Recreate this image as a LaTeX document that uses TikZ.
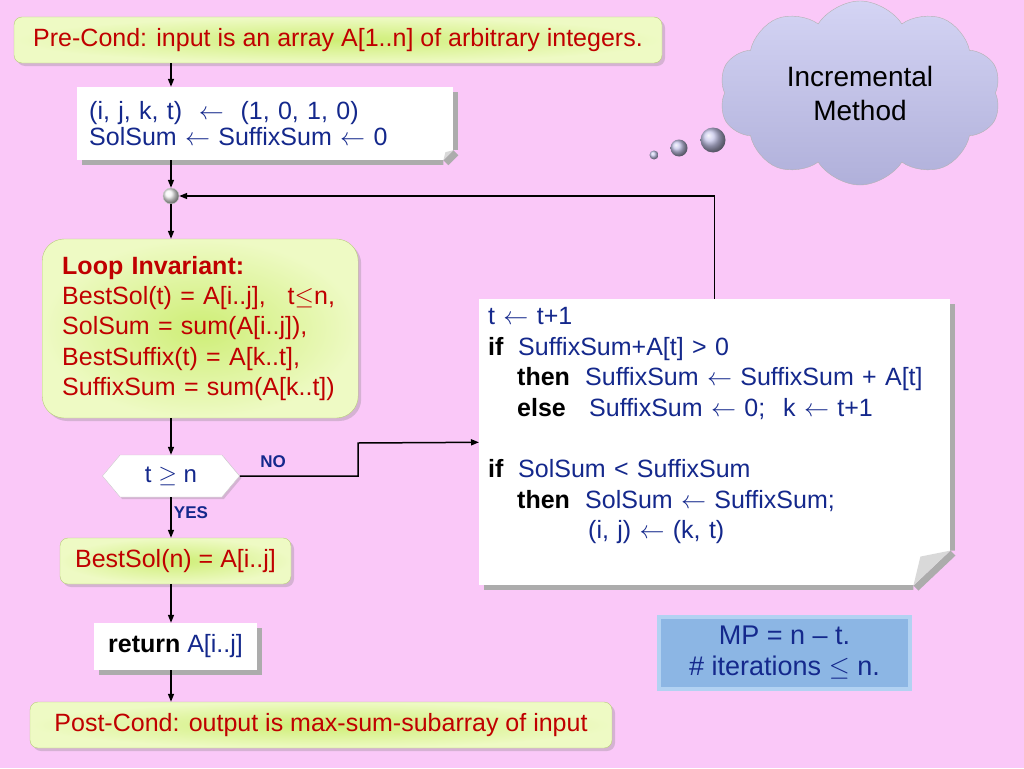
\RequirePackage{fix-cm}
\documentclass[tikz,border=0pt]{standalone}
\usepackage{fontspec}
\setmainfont{Liberation Sans}
\usetikzlibrary{calc}
\usetikzlibrary{arrows.meta}
\usetikzlibrary{shadows}
\usetikzlibrary{shapes.symbols}
\definecolor{pinkbg}{RGB}{250,200,248}
\definecolor{darkred}{RGB}{192,0,0}
\definecolor{navy}{RGB}{20,40,140}
\definecolor{limelt}{RGB}{238,250,196}
\definecolor{limedk}{RGB}{206,238,118}
\definecolor{cloudlt}{RGB}{212,212,244}
\definecolor{clouddk}{RGB}{176,176,218}
\definecolor{mpblue}{RGB}{140,182,228}
\definecolor{mpedge}{RGB}{178,210,242}
\newcommand{\kwd}[1]{\textcolor{black}{\textbf{#1}}}
\newcommand{\getsto}{$\leftarrow$}
\begin{document}
\begin{tikzpicture}[x=1pt,y=-1pt,
    txt/.style={font=\fontsize{25}{30}\selectfont},
    limebox/.style={draw=limedk!70!gray, rounded corners=8pt, inner color=limedk, outer color=limelt, text=darkred, txt,
        drop shadow={opacity=0.3, shadow xshift=3pt, shadow yshift=-3pt}},
    paper/.style={fill=white, text=navy, txt, general shadow={fill=gray!65, shadow xshift=5pt, shadow yshift=-5pt}},
    flow/.style={line width=1.5pt, -{Triangle[length=8pt,width=6pt]}},
    lbl/.style={text=navy, font=\fontsize{17}{20}\selectfont\bfseries}]%
        \fill[pinkbg] (0,0) rectangle (1024,768);%
        \useasboundingbox (0,0) rectangle (1024,768);%
        \node[limebox, minimum width=648, minimum height=46] (pre) at (338,40) {Pre-Cond: input is an array A[1..n] of arbitrary integers.};%
        \node[paper, anchor=west, minimum width=376, minimum height=73, inner xsep=12, text width=352, align=left,
            font=\fontsize{25}{26}\selectfont] (init) at (77,123.5) {(i, j, k, t)~~\getsto~~(1, 0, 1, 0)\\SolSum \getsto{} SuffixSum \getsto{} 0};%
        \node[circle, minimum size=16, inner sep=0, shading=ball, ball color=gray!8, draw=gray!40] (join) at (171,196) {};%
        \node[limebox, rounded corners=22pt, anchor=west, minimum width=316, minimum height=179, inner xsep=20, text width=276,
            align=left, font=\fontsize{25}{30.3}\selectfont] (inv) at (42,328.5)
            {\textbf{Loop Invariant:}\\BestSol(t) = A[i..j],\hspace{22pt}t$\leq$n,\\SolSum = sum(A[i..j]),\\BestSuffix(t) = A[k..t],\\SuffixSum = sum(A[k..t])};%
        \node[signal, signal to=west and east, signal pointer angle=100, minimum width=137, minimum height=42, inner sep=0,
            fill=white, draw=gray!40, text=navy, font=\fontsize{24}{28}\selectfont,
            drop shadow={opacity=0.3, shadow xshift=2pt, shadow yshift=-2pt}] (test) at (171,476) {t $\geq$ n};%
        \node[lbl] (no) at (273,462) {NO};%
        \node[lbl] (yes) at (191,513) {YES};%
        \node[limebox, minimum width=231, minimum height=46] (best) at (175.5,561) {BestSol(n) = A[i..j]};%
        \node[paper, minimum width=163, minimum height=47] (ret) at (175.5,646.5) {\kwd{return} A[i..j]};%
        \node[limebox, minimum width=582, minimum height=46] (post) at (321,725) {Post-Cond: output is max-sum-subarray of input};%
        \node[paper, anchor=north west, minimum width=471, inner xsep=9, inner ysep=8, text width=453, align=left,
            font=\fontsize{25}{30.6}\selectfont, text depth=253pt] (body) at (479,299)
            {t \getsto{} t+1\\
             \makebox[30pt][l]{\kwd{if}}SuffixSum+A[t] > 0\\
             \hspace*{29pt}\makebox[68pt][l]{\kwd{then}}SuffixSum \getsto{} SuffixSum + A[t]\\
             \hspace*{29pt}\makebox[72pt][l]{\kwd{else}}SuffixSum \getsto{} 0;\hspace{18pt}k \getsto{} t+1\\[30.6pt]
             \makebox[30pt][l]{\kwd{if}}SolSum < SuffixSum\\
             \hspace*{29pt}\makebox[68pt][l]{\kwd{then}}SolSum \getsto{} SuffixSum;\\
             \hspace*{100pt}(i, j) \getsto{} (k, t)};%
        \begin{scope}[shift={(body.south east)}]%
            \fill[pinkbg] (-37,0) -- (0,-35) -- (8,-35) -- (8,8) -- (-37,8) -- cycle;%
            \fill[gray!65] (-37,0) -- (0,-35) -- (5,-30) -- (-32,5) -- cycle;%
            \fill[gray!30] (-37,0) -- (0,-35) -- (-30,-29) -- cycle;%
        \end{scope}%
        \begin{scope}[shift={(init.south east)}]%
            \fill[pinkbg] (-10,0) -- (0,-10) -- (6,-10) -- (6,6) -- (-10,6) -- cycle;%
            \fill[gray!65] (-10,0) -- (0,-10) -- (5,-5) -- (-5,5) -- cycle;%
            \fill[gray!30] (-10,0) -- (0,-10) -- (-8,-8) -- cycle;%
        \end{scope}%
        \node[cloud, cloud puffs=10, cloud puff arc=115, aspect=1.6, minimum width=282, minimum height=184, inner sep=0,
            top color=cloudlt, bottom color=clouddk, draw=gray!60, align=center,
            font=\fontsize{28}{34}\selectfont] (idea) at (860,93) {Incremental\\Method};%
        \shade[ball color=cloudlt!60!clouddk] (713,140) circle (12.5);%
        \shade[ball color=cloudlt!60!clouddk] (679,148) circle (8.5);%
        \shade[ball color=cloudlt!60!clouddk] (654,155) circle (4.5);%
        \node[fill=mpblue, draw=mpedge, line width=4pt, minimum width=251, minimum height=72, inner sep=0, align=center,
            text=navy, font=\fontsize{27}{31}\selectfont,
            drop shadow={opacity=0.3, shadow xshift=2pt, shadow yshift=-2pt}] (mp) at (784.5,653) {MP = n – t.\\\# iterations $\leq$ n.};%
        \draw[flow] (pre.south -| join) to (init.north -| join);%
        \draw[flow] (init.south -| join) to (join.north);%
        \draw[flow] (join.south) to (inv.north -| join);%
        \draw[flow] (inv.south -| join) to (test.north);%
        \draw[flow] (test.south) to (best.north -| join);%
        \draw[flow] (best.south -| join) to (ret.north -| join);%
        \draw[flow] (ret.south -| join) to (post.north -| join);%
        \coordinate (bend) at (358,443);%
        \draw[flow] (test.east) -| (bend) to (body.west);%
        \draw[flow] (body.north) |- (join.east);%
    \end{tikzpicture}
\end{document}
